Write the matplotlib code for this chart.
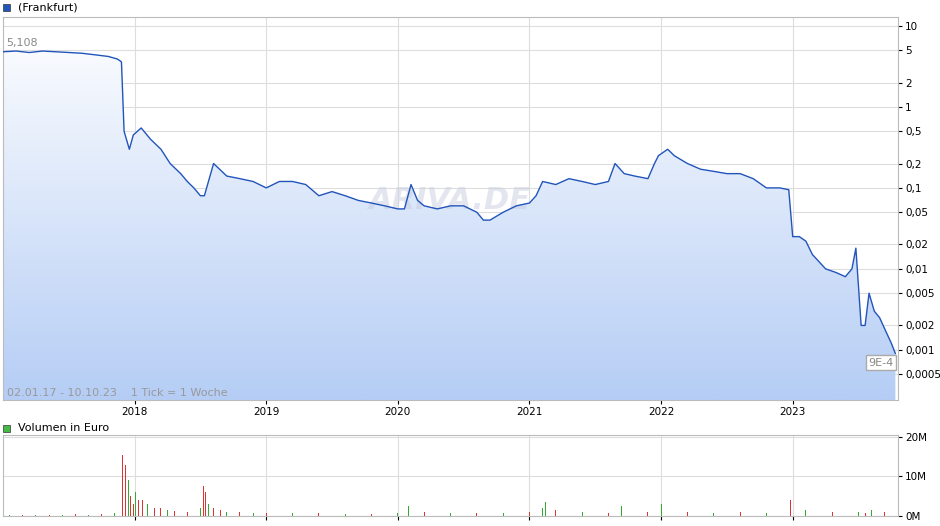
import matplotlib
matplotlib.use("Agg")
import matplotlib.pyplot as plt
import numpy as np
from matplotlib.patches import Polygon
from matplotlib.colors import LinearSegmentedColormap

# price: decimal year, value
px_year = [2017.00,2017.10,2017.20,2017.30,2017.40,2017.50,2017.60,2017.70,2017.80,2017.87,2017.90,2017.92,2017.96,2017.99,2018.05,2018.12,2018.20,2018.27,2018.35,2018.40,2018.45,2018.50,2018.53,2018.60,2018.70,2018.80,2018.90,2019.00,2019.10,2019.20,2019.30,2019.40,2019.50,2019.60,2019.70,2019.80,2019.90,2020.00,2020.05,2020.10,2020.15,2020.20,2020.30,2020.40,2020.50,2020.60,2020.65,2020.70,2020.80,2020.90,2021.00,2021.05,2021.10,2021.20,2021.30,2021.40,2021.50,2021.60,2021.65,2021.72,2021.80,2021.90,2021.95,2021.98,2022.05,2022.10,2022.20,2022.30,2022.40,2022.50,2022.60,2022.70,2022.80,2022.90,2022.97,2023.00,2023.05,2023.10,2023.15,2023.25,2023.33,2023.40,2023.45,2023.48,2023.52,2023.55,2023.58,2023.62,2023.66,2023.70,2023.75,2023.78]
px_val = [4.8,4.9,4.7,4.9,4.8,4.7,4.6,4.4,4.2,3.9,3.6,0.5,0.3,0.45,0.55,0.4,0.3,0.2,0.15,0.12,0.1,0.08,0.08,0.2,0.14,0.13,0.12,0.1,0.12,0.12,0.11,0.08,0.09,0.08,0.07,0.065,0.06,0.055,0.055,0.11,0.07,0.06,0.055,0.06,0.06,0.05,0.04,0.04,0.05,0.06,0.065,0.08,0.12,0.11,0.13,0.12,0.11,0.12,0.2,0.15,0.14,0.13,0.2,0.25,0.3,0.25,0.2,0.17,0.16,0.15,0.15,0.13,0.1,0.1,0.095,0.025,0.025,0.022,0.015,0.01,0.009,0.008,0.01,0.018,0.002,0.002,0.005,0.003,0.0025,0.0018,0.0012,0.0009]

vol_year = [2017.05,2017.15,2017.25,2017.35,2017.45,2017.55,2017.65,2017.75,2017.85,2017.91,2017.93,2017.95,2017.97,2017.99,2018.01,2018.03,2018.06,2018.1,2018.15,2018.2,2018.25,2018.3,2018.4,2018.5,2018.52,2018.54,2018.56,2018.6,2018.65,2018.7,2018.8,2018.9,2019.0,2019.2,2019.4,2019.6,2019.8,2020.0,2020.08,2020.2,2020.4,2020.6,2020.8,2021.0,2021.1,2021.12,2021.2,2021.4,2021.6,2021.7,2021.9,2022.0,2022.2,2022.4,2022.6,2022.8,2022.98,2023.1,2023.3,2023.5,2023.55,2023.6,2023.7]
vol_val = [0.3,0.2,0.3,0.2,0.3,0.4,0.3,0.5,0.8,15.5,13,9,5,3,6,4,4,3,2,2,1.5,1.2,1,2,7.5,6,3,2,1.5,1,1,0.8,0.8,0.8,0.7,0.6,0.6,0.7,2.5,1,0.8,0.8,0.8,1,2,3.5,1.5,1,0.8,2.5,1,3,1,0.8,1,0.8,4,1.5,1,1,0.8,1.5,1]
vol_up = [1,0,1,0,1,0,1,0,1,0,0,1,0,0,1,0,0,1,0,0,1,0,0,1,0,0,1,0,0,1,0,1,0,1,0,1,0,1,1,0,1,0,1,0,1,1,0,1,0,1,0,1,0,1,0,1,0,1,0,1,0,1,0]

fig = plt.figure(figsize=(9.4, 5.26), dpi=100)
ax = fig.add_axes([3/940, 1-400/526, 895/940, 383/526])
ax2 = fig.add_axes([3/940, 1-516/526, 895/940, 81/526])
x0, x1 = 2017.0, 2023.80
ylo, yhi = 0.00024, 12.9
for a in (ax, ax2):
    a.set_xlim(x0, x1)
    a.grid(True, color="#dddddd", lw=0.8)
    a.set_axisbelow(True)
    for s in a.spines.values():
        s.set_color("#bbbbbb")
    a.yaxis.tick_right()
    a.tick_params(labelsize=7.5, length=3, pad=2, colors="#000000")
    a.set_xticks(range(2018, 2024))

ax.set_yscale("log")
ax.set_ylim(ylo, yhi)
yt = [10,5,2,1,0.5,0.2,0.1,0.05,0.02,0.01,0.005,0.002,0.001,0.0005]
ax.set_yticks(yt)
ax.set_yticklabels([str(v).replace(".", ",") for v in yt])
ax.minorticks_off()
ax.set_xticklabels(["2018","2019","2020","2021","2022","2023"])

grad = np.linspace(0, 1, 256).reshape(-1, 1)
cm = LinearSegmentedColormap.from_list("g", ["#ffffff", "#b5cdf5"])
im = ax.imshow(grad, aspect="auto", cmap=cm, zorder=1, extent=[0, 1, 0, 1],
               transform=ax.transAxes)
poly = Polygon(list(zip(px_year, px_val)) + [(px_year[-1], ylo), (px_year[0], ylo)],
               closed=True, transform=ax.transData, facecolor="none", edgecolor="none")
ax.add_patch(poly)
im.set_clip_path(poly)
ax.plot(px_year, px_val, color="#2255bb", lw=1, zorder=3)
ax.text(0.5, 0.52, "ARIVA.DE", transform=ax.transAxes, fontsize=22, color="#c8cede",
        alpha=0.5, ha="center", va="center", fontweight="bold", style="italic", zorder=2)
ax.text(0.004, 0.923, "5,108", transform=ax.transAxes, fontsize=8, color="#888888")
ax.text(0.004, 0.01, "02.01.17 - 10.10.23    1 Tick = 1 Woche", transform=ax.transAxes,
        fontsize=8, color="#999999")
ax.text(0.995, 0.09, "9E-4", transform=ax.transAxes, fontsize=8, color="#888888", ha="right",
        bbox=dict(facecolor="white", edgecolor="#aaaaaa", pad=1.5))

cols = ["#33aa33" if u else "#dd3333" for u in vol_up]
ax2.bar(vol_year, [v*1e6 for v in vol_val], width=0.008, color=cols)
ax2.set_ylim(0, 20.5e6)
ax2.set_yticks([0, 10e6, 20e6])
ax2.set_yticklabels(["0M", "10M", "20M"])
ax2.set_xticklabels([])

fig.patches.append(plt.Rectangle((3/940, 1-11/526), 7/940, 7/526, transform=fig.transFigure,
                                 facecolor="#2255bb", edgecolor="#333333", lw=0.5))
fig.text(18/940, 1-10/526, "(Frankfurt)", fontsize=8)
fig.patches.append(plt.Rectangle((3/940, 1-432/526), 7/940, 7/526, transform=fig.transFigure,
                                 facecolor="#44bb44", edgecolor="#333333", lw=0.5))
fig.text(18/940, 1-431/526, "Volumen in Euro", fontsize=8)
fig.savefig("out.png", dpi=100)
